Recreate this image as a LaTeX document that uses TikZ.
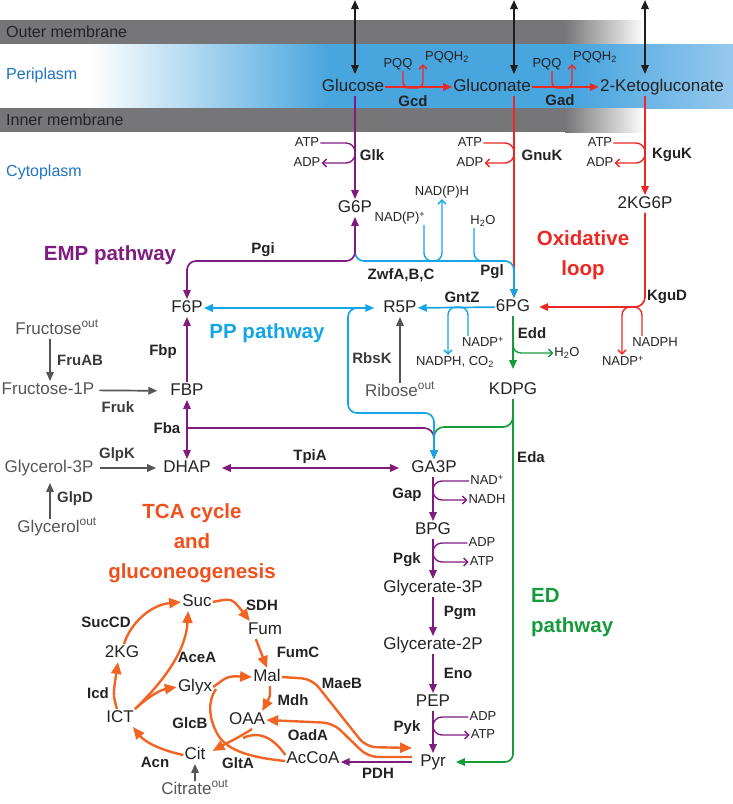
\documentclass[tikz,border=0pt]{standalone}
\usepackage{fontspec}
\setmainfont{Liberation Sans}
\usetikzlibrary{arrows.meta}
\definecolor{emp}{RGB}{128,28,128}
\definecolor{ppp}{RGB}{20,165,230}
\definecolor{oxl}{RGB}{237,40,36}
\definecolor{edp}{RGB}{22,155,60}
\definecolor{tca}{RGB}{242,100,35}
\definecolor{tcatext}{RGB}{240,80,30}
\definecolor{peri}{RGB}{72,165,222}
\definecolor{perilt}{RGB}{150,200,238}
\definecolor{memb}{RGB}{118,118,120}
\definecolor{labblue}{RGB}{30,115,195}
\definecolor{ink}{RGB}{35,35,35}
\definecolor{grx}{RGB}{85,85,85}
\definecolor{blk}{RGB}{30,30,30}

\begin{document}
\begin{tikzpicture}[x=1pt,y=-1pt,
    every node/.style={inner sep=1pt,text=ink},
    metab/.style={font=\fontsize{17}{20}\selectfont,text height=12pt,text depth=3.5pt},
    cofac/.style={font=\fontsize{13}{15}\selectfont,text height=9.5pt,text depth=2.5pt},
    enzyme/.style={font=\bfseries\fontsize{15}{18}\selectfont},
    biglabel/.style={font=\bfseries\fontsize{20.5}{30}\selectfont,align=center},
    zonelabel/.style={font=\fontsize{16}{20}\selectfont,anchor=west},
    rxn/.style={line width=1.7pt,-{Triangle[length=9pt,width=7.5pt]}},
    revrxn/.style={line width=1.7pt,{Triangle[length=9pt,width=7.5pt]}-{Triangle[length=9pt,width=7.5pt]}},
    cofarrow/.style={line width=1.4pt,rounded corners=8pt,-{Straight Barb[length=4pt,width=8pt]}},
    tcarrow/.style={tca,line width=2.4pt,-{Triangle[length=12pt,width=10pt]}}]
    \useasboundingbox (0,0) rectangle (733,804);

    % membranes and periplasm
    \fill[memb] (0,20) rectangle (565,44);
    \shade[left color=memb,right color=white] (565,20) rectangle (645,44);
    \shade[left color=white,right color=peri] (90,44) rectangle (330,108);
    \fill[peri] (330,44) rectangle (575,108);
    \shade[left color=peri,right color=perilt] (575,44) rectangle (733,108);
    \fill[memb] (0,108) rectangle (565,132);
    \shade[left color=memb,right color=white] (565,108) rectangle (645,132);
    \node[zonelabel] (om) at (5,32) {Outer membrane};
    \node[zonelabel,text=labblue] (peri) at (5,75) {Periplasm};
    \node[zonelabel] (im) at (5,120) {Inner membrane};
    \node[zonelabel,text=labblue] (cyto) at (5,172) {Cytoplasm};

    % metabolites
    \node[metab] (glc) at (353,87) {Glucose};
    \node[metab] (glcn) at (492,87) {Gluconate};
    \node[metab] (kglcn) at (662,87) {2-Ketogluconate};
    \node[metab] (g6p) at (355,208) {G6P};
    \node[metab] (kg6p) at (645,204) {2KG6P};
    \node[metab] (f6p) at (187,308) {F6P};
    \node[metab] (r5p) at (400,308) {R5P};
    \node[metab] (pg6) at (513,307) {6PG};
    \node[metab] (kdpg) at (513,390) {KDPG};
    \node[metab] (fbp) at (187,391) {FBP};
    \node[metab] (dhap) at (187,468) {DHAP};
    \node[metab] (ga3p) at (434,468) {GA3P};
    \node[metab] (bpg) at (433,530) {BPG};
    \node[metab] (gla3) at (433,588) {Glycerate-3P};
    \node[metab] (gla2) at (433,645) {Glycerate-2P};
    \node[metab] (pep) at (433,702) {PEP};
    \node[metab,inner xsep=8pt] (pyr) at (433,762) {Pyr};
    \node[metab,text=grx] (fruout) at (57,330) {Fructose\textsuperscript{out}};
    \node[metab,text=grx] (fru1p) at (48,390) {Fructose-1P};
    \node[metab,text=grx] (gl3p) at (49,468) {Glycerol-3P};
    \node[metab,text=grx] (glyout) at (57,528) {Glycerol\textsuperscript{out}};
    \node[metab,text=grx] (ribout) at (400,392) {Ribose\textsuperscript{out}};
    \node[metab] (suc) at (197,602) {Suc};
    \node[metab] (fum) at (265,630) {Fum};
    \node[metab] (mal) at (267,677) {Mal};
    \node[metab] (oaa) at (247,720) {OAA};
    \node[metab] (cit) at (195,755) {Cit};
    \node[metab] (ict) at (120,718) {ICT};
    \node[metab] (kg2) at (122,653) {2KG};
    \node[metab] (glyx) at (195,687) {Glyx};
    \node[metab] (accoa) at (313,759) {AcCoA};
    \node[metab,text=grx] (citout) at (195,790) {Citrate\textsuperscript{out}};

    % cofactors
    \node[cofac] (pqqa) at (398,64) {PQQ};
    \node[cofac] (pqqha) at (447,57) {PQQH\textsubscript{2}};
    \node[cofac] (pqqb) at (547,64) {PQQ};
    \node[cofac] (pqqhb) at (595,57) {PQQH\textsubscript{2}};
    \node[cofac] (atpa) at (307,143) {ATP};
    \node[cofac] (adpa) at (307,163) {ADP};
    \node[cofac] (atpb) at (470,143) {ATP};
    \node[cofac] (adpb) at (470,163) {ADP};
    \node[cofac] (atpc) at (600,143) {ATP};
    \node[cofac] (adpc) at (600,163) {ADP};
    \node[cofac] (nadpha) at (442,192) {NAD(P)H};
    \node[cofac] (nadpa) at (400,218) {NAD(P)\textsuperscript{+}};
    \node[cofac] (h2oa) at (483,221) {H\textsubscript{2}O};
    \node[cofac] (nadpb) at (483,343) {NADP\textsuperscript{+}};
    \node[cofac] (nadphb) at (455,362) {NADPH, CO\textsubscript{2}};
    \node[cofac] (h2ob) at (567,353) {H\textsubscript{2}O};
    \node[cofac] (nadphc) at (655,343) {NADPH};
    \node[cofac] (nadpc) at (623,362) {NADP\textsuperscript{+}};
    \node[cofac] (nada) at (487,481) {NAD\textsuperscript{+}};
    \node[cofac] (nadha) at (487,500) {NADH};
    \node[cofac] (adpd) at (482,543) {ADP};
    \node[cofac] (atpd) at (482,562) {ATP};
    \node[cofac] (adpe) at (483,717) {ADP};
    \node[cofac] (atpe) at (483,735) {ATP};

    % enzymes
    \node[enzyme] (gcd) at (413,101) {Gcd};
    \node[enzyme] (gad) at (560,100) {Gad};
    \node[enzyme] (glk) at (372,155) {Glk};
    \node[enzyme] (gnuk) at (542,155) {GnuK};
    \node[enzyme] (kguk) at (672,155) {KguK};
    \node[enzyme] (pgi) at (263,250) {Pgi};
    \node[enzyme] (zwf) at (401,275) {ZwfA,B,C};
    \node[enzyme] (pgl) at (492,272) {Pgl};
    \node[enzyme] (gntz) at (462,297) {GntZ};
    \node[enzyme] (kgud) at (667,297) {KguD};
    \node[enzyme] (edd) at (532,333) {Edd};
    \node[enzyme] (fbpase) at (163,352) {Fbp};
    \node[enzyme,text=grx!70!black] (fruab) at (80,360) {FruAB};
    \node[enzyme,text=grx!70!black] (rbsk) at (372,358) {RbsK};
    \node[enzyme,text=grx!70!black] (fruk) at (118,407) {Fruk};
    \node[enzyme] (fba) at (167,428) {Fba};
    \node[enzyme,text=grx!70!black] (glpk) at (117,455) {GlpK};
    \node[enzyme] (tpia) at (310,457) {TpiA};
    \node[enzyme] (eda) at (531,457) {Eda};
    \node[enzyme,text=grx!70!black] (glpd) at (75,499) {GlpD};
    \node[enzyme] (gap) at (407,495) {Gap};
    \node[enzyme] (pgk) at (407,560) {Pgk};
    \node[enzyme] (pgm) at (460,613) {Pgm};
    \node[enzyme] (eno) at (458,673) {Eno};
    \node[enzyme] (pyk) at (407,728) {Pyk};
    \node[enzyme] (pdh) at (378,773) {PDH};
    \node[enzyme] (sdh) at (262,605) {SDH};
    \node[enzyme] (fumc) at (298,652) {FumC};
    \node[enzyme] (succd) at (106,622) {SucCD};
    \node[enzyme] (acea) at (197,657) {AceA};
    \node[enzyme] (icd) at (98,693) {Icd};
    \node[enzyme] (glcb) at (190,723) {GlcB};
    \node[enzyme] (mdh) at (293,700) {Mdh};
    \node[enzyme] (maeb) at (342,683) {MaeB};
    \node[enzyme] (oada) at (308,735) {OadA};
    \node[enzyme] (acn) at (155,762) {Acn};
    \node[enzyme] (glta) at (238,763) {GltA};

    % pathway labels
    \node[biglabel,text=emp] (emplab) at (110,255) {EMP pathway};
    \node[biglabel,text=ppp] (pplab) at (267,333) {PP pathway};
    \node[biglabel,text=oxl] (oxlab) at (583,255) {Oxidative\\loop};
    \node[biglabel,text=tcatext] (tcalab) at (192,543) {TCA cycle\\and\\gluconeogenesis};
    \node[biglabel,text=edp,align=left,anchor=west] (edlab) at (530,613) {ED\\pathway};

    % transport
    \coordinate (exa) at (355,0);
    \coordinate (exb) at (514,0);
    \coordinate (exc) at (645,0);
    \draw[blk,revrxn,shorten >=4pt] (exa) -- (exa |- glc.north);
    \draw[blk,revrxn,shorten >=4pt] (exb) -- (exb |- glcn.north);
    \draw[blk,revrxn,shorten >=4pt] (exc) -- (exc |- kglcn.north);

    % periplasmic oxidation
    \draw[oxl,rxn] (glc) -- (glcn);
    \draw[oxl,rxn] (glcn) -- (kglcn);
    \draw[oxl,cofarrow,rounded corners=6pt] (403,0 |- pqqa.south) -- (403,88) -- (423,88) -- (423,0 |- pqqha.south);
    \draw[oxl,cofarrow,rounded corners=6pt] (552,0 |- pqqb.south) -- (552,88) -- (572,88) -- (572,0 |- pqqhb.south);

    % uptake and phosphorylation
    \draw[oxl,rxn] (514,0 |- glcn.south) -- (514,0 |- pg6.north);
    \draw[oxl,rxn] (kglcn.south -| kg6p) -- (kg6p.north);
    \draw[emp,rxn] (glc.south -| g6p) -- (g6p.north);
    \draw[emp,cofarrow,rounded corners=9pt] (atpa.east) -- (355,143) -- (355,163) -- (adpa.east);
    \draw[oxl,cofarrow,rounded corners=9pt] (atpb.east) -- (514,143) -- (514,163) -- (adpb.east);
    \draw[oxl,cofarrow,rounded corners=9pt] (atpc.east) -- (645,143) -- (645,163) -- (adpc.east);

    % oxidative branch
    \draw[ppp,line width=1.4pt,rounded corners=8pt] (474,0 |- h2oa.south) -- (474,261) -- (486,261);
    \draw[ppp,cofarrow] (424,0 |- nadpa.south) -- (424,261) -- (442,261) -- (nadpha.south);
    \draw[ppp,rxn,rounded corners=9pt] (355,251) -- (355,261) -- (514,261) -- (514,0 |- pg6.north);
    \draw[emp,revrxn,rounded corners=9pt] (g6p.south) -- (355,261) -- (187,261) -- (f6p.north);
    \draw[oxl,rxn,rounded corners=10pt,shorten >=8pt] (kg6p.south) -- (645,307) -- (pg6.east);
    \draw[oxl,cofarrow] (642,0 |- nadphc.north) -- (642,307) -- (622,307) -- (622,0 |- nadpc.north);

    % pentose phosphate
    \draw[ppp,rxn] (pg6) -- (r5p);
    \draw[ppp,cofarrow] (468,0 |- nadpb.north) -- (468,307) -- (448,307) -- (448,0 |- nadphb.north);
    \draw[ppp,revrxn,shorten >=8pt] (f6p) -- (r5p);
    \draw[grx,rxn] (ribout.north) -- (r5p.south);

    % ED
    \draw[edp,rxn,shorten >=12pt] (pg6.south) -- (kdpg.north);
    \draw[edp,cofarrow] (513,335) -- (513,353) -- (h2ob.west);
    \draw[edp,rxn,rounded corners=8pt,shorten >=2pt] (kdpg.south) -- (513,762) -- (pyr.east);
    \draw[edp,rxn,rounded corners=10pt] (513,410) -- (513,427) -- (434,427) -- (434,0 |- ga3p.north);

    % EMP upper part
    \draw[emp,rxn] (fbp.north) -- (f6p.south);
    \draw[emp,revrxn] (fbp.south) -- (dhap.north);
    \draw[emp,rxn,rounded corners=10pt] (187,428) -- (434,428) -- (434,0 |- ga3p.north);
    \draw[ppp,rxn,rounded corners=9pt] (362,308) -- (348,308) -- (348,413) -- (434,413) -- (434,0 |- ga3p.north);
    \draw[emp,revrxn,shorten <=10pt,shorten >=11pt] (dhap) -- (ga3p);

    % side entries
    \draw[grx,rxn] (50,0 |- fruout.south) -- (50,0 |- fru1p.north);
    \draw[grx,rxn,shorten <=4pt,shorten >=12pt] (fru1p) -- (fbp);
    \draw[grx,rxn,shorten <=5pt,shorten >=6pt] (gl3p) -- (dhap);
    \draw[grx,rxn,shorten >=6pt] (50,0 |- glyout.north) -- (50,0 |- gl3p.south);
    \draw[grx,rxn] (citout.north) -- (cit.south);

    % EMP lower part
    \draw[emp,rxn] (ga3p.south -| bpg) -- (bpg.north);
    \draw[emp,cofarrow,rounded corners=9pt] (nada.west) -- (433,481) -- (433,500) -- (nadha.west);
    \draw[emp,rxn] (bpg.south) -- (gla3.north);
    \draw[emp,cofarrow,rounded corners=9pt] (adpd.west) -- (433,543) -- (433,562) -- (atpd.west);
    \draw[emp,rxn] (gla3.south) -- (gla2.north);
    \draw[emp,rxn] (gla2.south) -- (pep.north);
    \draw[emp,rxn] (pep.south) -- (pyr.north);
    \draw[emp,cofarrow,rounded corners=9pt] (adpe.west) -- (433,717) -- (433,735) -- (atpe.west);
    \draw[emp,rxn] (pyr.west) -- (pyr.west -| accoa.east);

    % TCA cycle and gluconeogenesis
    \draw[tcarrow] (suc.east) .. controls (232,598) .. ([xshift=3pt]fum.north west);
    \draw[tcarrow] ([xshift=9pt]fum.south west) -- (mal.north);
    \draw[tcarrow] ([xshift=3pt]mal.south) .. controls (270,697) .. ([xshift=-4pt]oaa.north east);
    \draw[tca,line width=2.4pt] ([yshift=4pt]accoa.west) .. controls (272,736) and (258,731) .. (243,738);
    \draw[tcarrow] ([xshift=5pt]oaa.south) .. controls (240,737) and (225,744) .. ([xshift=6pt,yshift=4pt]cit.east);
    \draw[tca,line width=2.4pt] ([yshift=-2pt]accoa.west) .. controls (255,758) and (228,752) .. (218,735) .. controls (208,718) and (208,700) .. (216,689);
    \draw[tcarrow] (glyx.east) .. controls (228,676) .. (mal.west);
    \draw[tcarrow] (cit.west) .. controls (160,750) and (145,742) .. ([xshift=-2pt]ict.south east);
    \draw[tcarrow] ([xshift=-3pt]ict.north) .. controls (113,695) .. ([xshift=-4pt]kg2.south);
    \draw[tcarrow] ([xshift=2pt]kg2.north) .. controls (130,624) and (150,605) .. (suc.west);
    \draw[tcarrow] (ict.north east) .. controls (165,680) and (186,650) .. ([xshift=7pt]suc.south west);
    \draw[tcarrow] (ict.north east) .. controls (148,697) and (160,690) .. (glyx.west);
    \draw[tcarrow,rounded corners=10pt] (mal.east) -- (312,679) -- (366,747) -- ([yshift=14pt]pyr.west);
    \draw[tcarrow,rounded corners=10pt] ([yshift=5pt]pyr.west) -- (368,757) -- (333,723) -- (oaa.east);
\end{tikzpicture}
\end{document}
